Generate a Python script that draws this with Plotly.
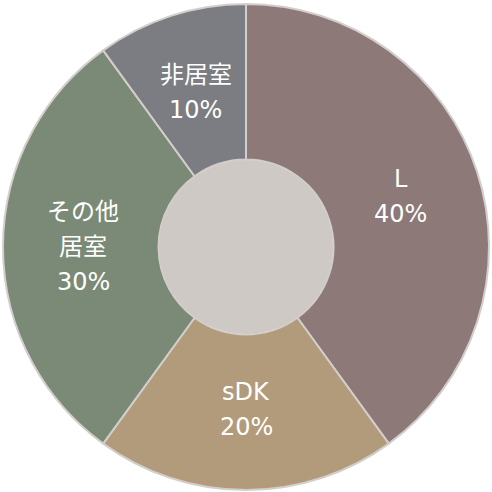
import math
import plotly.graph_objects as go

# room share data
labels = ['L', 'sDK', 'その他<br>居室', '非居室']
shares = [40, 20, 30, 10]
colors = ['#8c7978', '#b29b7a', '#7a8a76', '#7c7d82']

fig = go.Figure()

fig.add_trace(go.Pie(
    labels=labels,
    values=shares,
    sort=False,
    direction='clockwise',
    rotation=0,
    hole=0.36,
    marker=dict(colors=colors, line=dict(color='#d3cecb', width=2)),
    textinfo='none',
    hoverinfo='label+percent',
    showlegend=False,
))

# light gray disc filling the hole
fig.add_trace(go.Pie(
    values=[1],
    domain=dict(x=[0.321, 0.679], y=[0.321, 0.679]),
    marker=dict(colors=['#cec9c5'], line=dict(width=0)),
    textinfo='none',
    hoverinfo='skip',
    showlegend=False,
))

# slice labels, placed at the middle angle of each slice
total = sum(shares)
start = 0
r_text = 0.335
line_gap = 35
for lab, v in zip(labels, shares):
    mid = (start + v / 2) / total * 2 * math.pi
    start += v
    cx = 0.5 + r_text * math.sin(mid)
    cy = 0.5 + r_text * math.cos(mid)
    lines = lab.split('<br>') + [f'{round(v / total * 100)}%']
    n = len(lines)
    for i, txt in enumerate(lines):
        fig.add_annotation(
            x=cx, y=cy, xref='paper', yref='paper',
            text=txt, showarrow=False,
            xanchor='center', yanchor='middle',
            yshift=-(i - (n - 1) / 2) * line_gap,
            font=dict(family='DejaVu Sans, Noto Sans CJK JP', size=24, color='white'),
        )

fig.update_layout(
    width=492, height=492,
    margin=dict(l=3, r=3, t=4, b=2),
    paper_bgcolor='white',
    plot_bgcolor='white',
)

fig.write_html("out.html", config={'displayModeBar': False},
               post_script="document.body.style.margin='0';")
